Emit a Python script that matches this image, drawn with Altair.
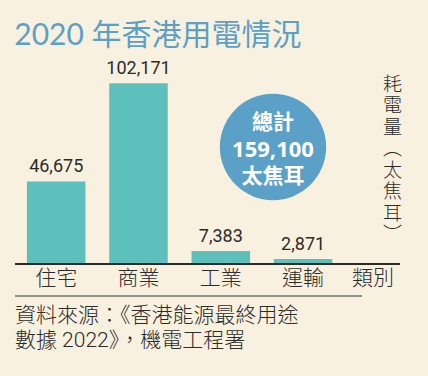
import altair as alt
import pandas as pd

categories = ["住宅", "商業", "工業", "運輸"]
values = [46675, 102171, 7383, 2871]
value_labels = ["46,675", "102,171", "7,383", "2,871"]
title_text = "2020 年香港用電情況"
x_title = "類別"
y_title_chars = ["耗", "電", "量", "︵", "太", "焦", "耳", "︶"]
total_head = "總計"
total_unit = "太焦耳"
source_lines = ["資料來源：《香港能源最終用途", "數據 2022》，機電工程署"]

BG = "#f9f1df"
TEAL = "#5ec0bd"
BLUE = "#5aa0c7"
INK = "#2b2b2b"
FONT = "Roboto, 'Noto Sans CJK TC', sans-serif"
CJK = "'Noto Sans CJK TC', sans-serif"
TFONT = "Lato, 'Noto Sans CJK TC', sans-serif"

df = pd.DataFrame({"cat": categories, "val": values, "lab": value_labels})
total = sum(values)
total_df = pd.DataFrame({"t": [f"{total:,}"]})
W, H = 385, 204

x = alt.X(
    "cat:N", sort=categories,
    scale=alt.Scale(range=[0, 329.3], paddingInner=0.289, paddingOuter=0.145),
    axis=alt.Axis(
        title=x_title, domain=False, ticks=False, tickSize=0, labelAngle=0,
        labelFontSize=21, labelFont=FONT, labelColor=INK, labelBaseline="middle",
        labelFontWeight=300,
        labelPadding=14, titleX=357.5, titleY=14, titleAlign="center",
        titleBaseline="middle", titleFontSize=21, titleFont=FONT,
        titleFontWeight=300, titleColor=INK,
    ),
)
y = alt.Y(
    "val:Q",
    scale=alt.Scale(domain=[0, 115300], nice=False),
    axis=alt.Axis(
        orient="right", title=y_title_chars, labels=False, ticks=False,
        domain=False, grid=False, titleAngle=0, titleX=-8, titleY=15,
        titleAlign="center", titleBaseline="top", titleFontSize=19,
        titleLineHeight=21.5, titleFont=CJK, titleFontWeight=300,
        titleColor=INK,
    ),
)

base = alt.Chart(df)
bars = base.mark_bar(color=TEAL).encode(x=x, y=y)
labels = base.mark_text(
    baseline="bottom", dy=-5, fontSize=18, font=FONT, color=INK
).encode(x=alt.X("cat:N", sort=categories), y="val:Q", text="lab:N")

baseline = base.mark_rule(color=INK, strokeWidth=1.5).encode(
    x=alt.value(0), x2=alt.value(W), y=alt.value(H)
)
sep = base.mark_rule(color="#8a8a8a", strokeWidth=1).encode(
    x=alt.value(0), x2=alt.value(347), y=alt.value(236)
)

circ_base = alt.Chart(total_df)
circle = circ_base.mark_circle(size=11310, color=BLUE, opacity=1).encode(
    x=alt.value(258), y=alt.value(87)
)
c_head = circ_base.mark_text(
    fontSize=21, fontWeight="bold", font=CJK, color="white", baseline="middle"
).encode(x=alt.value(258), y=alt.value(63), text=alt.value(total_head))
c_num = circ_base.mark_text(
    fontSize=22, fontWeight="bold", font="'Noto Sans', 'Noto Sans CJK TC'", color="white", baseline="middle"
).encode(x=alt.value(258), y=alt.value(90), text="t:N")
c_unit = circ_base.mark_text(
    fontSize=21, fontWeight="bold", font=CJK, color="white", baseline="middle"
).encode(x=alt.value(258), y=alt.value(117), text=alt.value(total_unit))

src1 = circ_base.mark_text(
    align="left", baseline="middle", fontSize=21, font=FONT, fontWeight=300, color=INK
).encode(x=alt.value(0), y=alt.value(256), text=alt.value(source_lines[0]))
src2 = circ_base.mark_text(
    align="left", baseline="middle", fontSize=21, font=FONT, fontWeight=300, color=INK
).encode(x=alt.value(0), y=alt.value(281), text=alt.value(source_lines[1]))

chart = alt.layer(
    bars, labels, baseline, sep, circle, c_head, c_num, c_unit, src1, src2
).properties(
    width=W, height=H,
    title=alt.TitleParams(
        title_text, anchor="start", fontSize=30, font=TFONT, color=BLUE,
        fontWeight="normal", baseline="bottom", offset=11, dy=32,
    ),
    autosize=alt.AutoSizeParams(type="none"),
    padding={"left": 15, "top": 60, "right": 28, "bottom": 112},
    background=BG,
).configure_view(stroke=None)

chart.save("out.html", embed_options={"renderer": "svg", "actions": False})
